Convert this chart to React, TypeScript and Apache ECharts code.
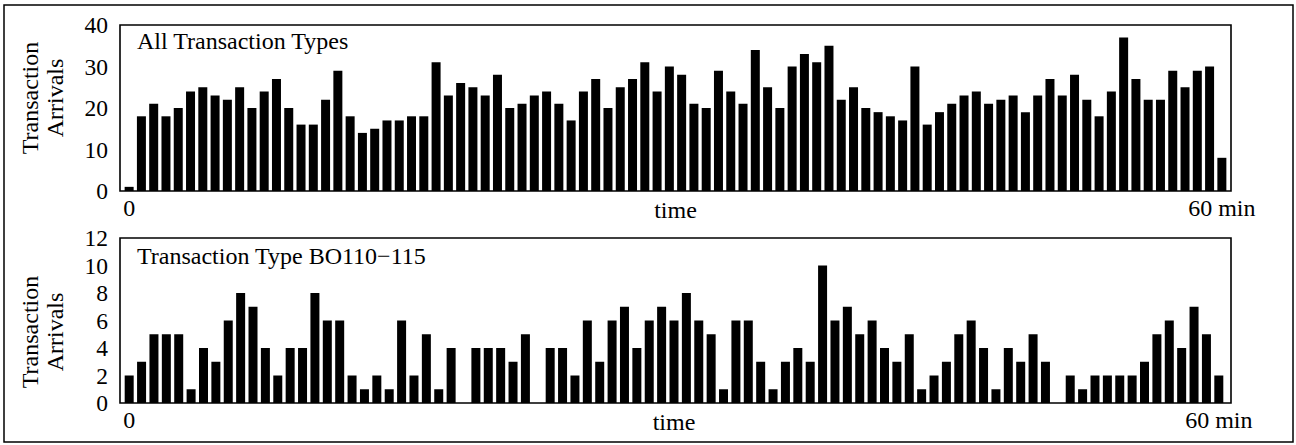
import React, { useEffect, useRef } from "react";
import * as echarts from "echarts";

const topTitle = "All Transaction Types";
const bottomTitle = "Transaction Type BO110\u2212115";
const yAxisName = "Transaction\nArrivals";
const xAxisName = "time";
const xEndLabels = ["0", "60 min"];
const topYTicks = [0, 10, 20, 30, 40];
const bottomYTicks = [0, 2, 4, 6, 8, 10, 12];

// arrivals per interval, all transaction types (90 intervals)
const topArrivals = [
  1, 18, 21, 18, 20, 24, 25, 23, 22, 25,
  20, 24, 27, 20, 16, 16, 22, 29, 18, 14,
  15, 17, 17, 18, 18, 31, 23, 26, 25, 23,
  28, 20, 21, 23, 24, 21, 17, 24, 27, 20,
  25, 27, 31, 24, 30, 28, 21, 20, 29, 24,
  21, 34, 25, 20, 30, 33, 31, 35, 22, 25,
  20, 19, 18, 17, 30, 16, 19, 21, 23, 24,
  21, 22, 23, 19, 23, 27, 23, 28, 22, 18,
  24, 37, 27, 22, 22, 29, 25, 29, 30, 8,
];

// arrivals per interval, transaction type BO110-115 (89 intervals)
const bottomArrivals = [
  2, 3, 5, 5, 5, 1, 4, 3, 6, 8,
  7, 4, 2, 4, 4, 8, 6, 6, 2, 1,
  2, 1, 6, 2, 5, 1, 4, 0, 4, 4,
  4, 3, 5, 0, 4, 4, 2, 6, 3, 6,
  7, 4, 6, 7, 6, 8, 6, 5, 1, 6,
  6, 3, 1, 3, 4, 3, 10, 6, 7, 5,
  6, 4, 3, 5, 1, 2, 3, 5, 6, 4,
  1, 4, 3, 5, 3, 0, 2, 1, 2, 2,
  2, 2, 3, 5, 6, 4, 7, 5, 2,
];

const FONT = "'Liberation Serif', 'Times New Roman', serif";

export default function App() {
  const ref = useRef<HTMLDivElement>(null);

  useEffect(() => {
    if (!ref.current) return;
    const chart = echarts.init(ref.current, null, { renderer: "svg" });

    const topCats = topArrivals.map((_, i) => String(i + 1));
    const bottomCats = bottomArrivals.map((_, i) => String(i + 1));

    const xAxisFor = (cats: string[], gridIndex: number) => ({
      type: "category",
      gridIndex,
      data: cats,
      boundaryGap: true,
      axisLine: { show: false },
      axisTick: { show: false },
      splitLine: { show: false },
      name: xAxisName,
      nameLocation: "middle",
      nameGap: 7,
      nameMoveOverlap: false,
      nameTextStyle: { fontFamily: FONT, fontSize: 24, color: "#000" },
      axisLabel: {
        interval: (index: number) => index === 0 || index === cats.length - 1,
        formatter: (value: string) =>
          value === cats[0] ? xEndLabels[0] : value === cats[cats.length - 1] ? xEndLabels[1] : "",
        margin: 5,
        fontFamily: FONT,
        fontSize: 24,
        color: "#000",
      },
    });

    const yAxisFor = (ticks: number[], gridIndex: number) => ({
      type: "value",
      gridIndex,
      min: ticks[0],
      max: ticks[ticks.length - 1],
      interval: ticks[1] - ticks[0],
      axisLine: { show: false },
      axisTick: { show: false },
      splitLine: { show: false },
      axisLabel: {
        margin: 15,
        fontFamily: FONT,
        fontSize: 23.5,
        color: "#000",
      },
    });

    const textStyle = {
      fontFamily: FONT,
      fontSize: 24,
      fill: "#000",
    };

    chart.setOption({
      animation: false,
      backgroundColor: "#fff",
      grid: [
        { left: 123, width: 1105, top: 25, height: 166 },
        { left: 123, width: 1102, top: 238, height: 165 },
      ],
      xAxis: [xAxisFor(topCats, 0), xAxisFor(bottomCats, 1)],
      yAxis: [yAxisFor(topYTicks, 0), yAxisFor(bottomYTicks, 1)],
      series: [
        {
          type: "bar",
          xAxisIndex: 0,
          yAxisIndex: 0,
          data: topArrivals,
          barWidth: 9,
          itemStyle: { color: "#000" },
        },
        {
          type: "bar",
          xAxisIndex: 1,
          yAxisIndex: 1,
          data: bottomArrivals,
          barWidth: 9,
          itemStyle: { color: "#000" },
        },
      ],
      graphic: [
        {
          type: "rect",
          shape: { x: 4, y: 5, width: 1289, height: 437 },
          style: { fill: "none", stroke: "#000", lineWidth: 1.5 },
        },
        {
          type: "rect",
          shape: { x: 120, y: 25, width: 1111, height: 166 },
          style: { fill: "none", stroke: "#000", lineWidth: 1.6 },
          z: 10,
        },
        {
          type: "rect",
          shape: { x: 120, y: 238, width: 1111, height: 165 },
          style: { fill: "none", stroke: "#000", lineWidth: 1.6 },
          z: 10,
        },
        {
          type: "text",
          x: 137,
          y: 41,
          style: { ...textStyle, text: topTitle, textAlign: "left", textVerticalAlign: "middle" },
        },
        {
          type: "text",
          x: 137,
          y: 256,
          style: { ...textStyle, text: bottomTitle, textAlign: "left", textVerticalAlign: "middle" },
        },
        {
          type: "text",
          x: 42,
          y: 98,
          rotation: Math.PI / 2,
          style: {
            ...textStyle,
            text: yAxisName,
            lineHeight: 25,
            textAlign: "center",
            textVerticalAlign: "middle",
          },
        },
        {
          type: "text",
          x: 42,
          y: 332,
          rotation: Math.PI / 2,
          style: {
            ...textStyle,
            text: yAxisName,
            lineHeight: 25,
            textAlign: "center",
            textVerticalAlign: "middle",
          },
        },
      ],
    });

    return () => chart.dispose();
  }, []);

  return (
    <div
      ref={ref}
      style={{ position: "fixed", left: 0, top: 0, width: 1296, height: 445, background: "#fff" }}
    />
  );
}
